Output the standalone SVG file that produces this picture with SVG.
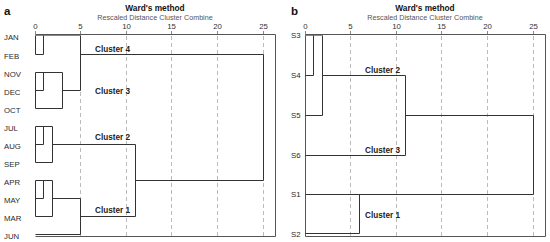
<svg xmlns="http://www.w3.org/2000/svg" width="550" height="242" viewBox="0 0 550 242">
<style>
text{font-family:"Liberation Sans",Arial,Helvetica,sans-serif}
.pl{font-size:11.5px;font-weight:bold;fill:#111}
.ti{font-size:8.3px;font-weight:bold;fill:#111;text-anchor:middle}
.st{font-size:7.2px;fill:#555;text-anchor:middle}
.tk{font-size:7.8px;fill:#333;text-anchor:middle}
.lf{font-size:7.8px;fill:#2a2a2a}
.cl{font-size:8.2px;font-weight:bold;fill:#222}
.grid{stroke:#bbb;stroke-width:1;stroke-dasharray:4 3;fill:none}
.tick{stroke:#888;stroke-width:1;fill:none}
.box{stroke:#555;stroke-width:1;fill:none}
.den{stroke:#333;stroke-width:1;fill:none}
.top{stroke:#888;stroke-width:1;fill:none}
</style>
<rect width="550" height="242" fill="#fff"/>

<g id="panel-a-frame">
<text class="pl" x="4" y="15">a</text>
<text class="ti" x="155" y="10.5">Ward's method</text>
<text class="st" x="155" y="19.5">Rescaled Distance Cluster Combine</text>
<g id="axis-a">
<text class="tk" x="35.5" y="28.5">0</text>
<text class="tk" x="80.5" y="28.5">5</text>
<text class="tk" x="126.5" y="28.5">10</text>
<text class="tk" x="171.5" y="28.5">15</text>
<text class="tk" x="217.5" y="28.5">20</text>
<text class="tk" x="263.5" y="28.5">25</text>
<path class="tick" d="M35.5 31V34.5M80.5 31V34.5M126.5 31V34.5M171.5 31V34.5M217.5 31V34.5M263.5 31V34.5"/>
</g>
<path class="grid" d="M80.5 36V236M126.5 36V236M171.5 36V236M217.5 36V236M263.5 36V236"/>
<path class="box" d="M35.5 34.5H275.5V236.5H35.5"/>
</g>

<g id="JAN"><text class="lf" x="4" y="40">JAN</text></g>
<g id="FEB"><text class="lf" x="4" y="58.5">FEB</text></g>
<g id="NOV"><text class="lf" x="4" y="76.5">NOV</text></g>
<g id="DEC"><text class="lf" x="4" y="94.5">DEC</text></g>
<g id="OCT"><text class="lf" x="4" y="112.5">OCT</text></g>
<g id="JUL"><text class="lf" x="4" y="130.5">JUL</text></g>
<g id="AUG"><text class="lf" x="4" y="148.5">AUG</text></g>
<g id="SEP"><text class="lf" x="4" y="166.5">SEP</text></g>
<g id="APR"><text class="lf" x="4" y="184.5">APR</text></g>
<g id="MAY"><text class="lf" x="4" y="202.5">MAY</text></g>
<g id="MAR"><text class="lf" x="4" y="220.5">MAR</text></g>
<g id="JUN"><text class="lf" x="4" y="238.5">JUN</text></g>

<g id="cluster-labels-a">
<text class="cl" x="95" y="51.5">Cluster 4</text>
<text class="cl" x="95" y="94">Cluster 3</text>
<text class="cl" x="95" y="140">Cluster 2</text>
<text class="cl" x="95" y="213">Cluster 1</text>
</g>

<g id="panel-b-frame">
<text class="pl" x="291" y="15">b</text>
<text class="ti" x="425" y="10.5">Ward's method</text>
<text class="st" x="425" y="19.5">Rescaled Distance Cluster Combine</text>
<g id="axis-b">
<text class="tk" x="305.5" y="28.5">0</text>
<text class="tk" x="350.5" y="28.5">5</text>
<text class="tk" x="396.5" y="28.5">10</text>
<text class="tk" x="441.5" y="28.5">15</text>
<text class="tk" x="487.5" y="28.5">20</text>
<text class="tk" x="533.5" y="28.5">25</text>
<path class="tick" d="M305.5 31V34.5M350.5 31V34.5M396.5 31V34.5M441.5 31V34.5M487.5 31V34.5M533.5 31V34.5"/>
</g>
<path class="grid" d="M350.5 36V236M396.5 36V236M441.5 36V236M487.5 36V236M533.5 36V236"/>
<path class="box" d="M305.5 34.5H545.5V236.5H305.5Z"/>
</g>

<g id="S3"><text class="lf" x="291" y="38.3">S3</text></g>
<g id="S4"><text class="lf" x="291" y="78.3">S4</text></g>
<g id="S5"><text class="lf" x="291" y="118.3">S5</text></g>
<g id="S6"><text class="lf" x="291" y="158.3">S6</text></g>
<g id="S1"><text class="lf" x="291" y="197.3">S1</text></g>
<g id="S2"><text class="lf" x="291" y="236.8">S2</text></g>

<g id="cluster-labels-b">
<text class="cl" x="365" y="72.5">Cluster 2</text>
<text class="cl" x="365" y="152.5">Cluster 3</text>
<text class="cl" x="365" y="217.5">Cluster 1</text>
</g>

<g id="connectors">
<path class="top" d="M35.5 35.5H80.5"/>
<path class="den" d="M35.5 35.5V54.5M43.5 35.5V54.5M35.5 54.5H43.5M80.5 35.5V90.5M80.5 54.5H263.5M263.5 54.5V180.5"/>
<path class="den" d="M35.5 72.5H62.5M43.5 72.5V90.5M35.5 90.5H43.5M62.5 90.5H80.5M62.5 72.5V108.5M35.5 108.5H62.5M35.5 72.5V108.5"/>
<path class="den" d="M35.5 126.5H52.5M35.5 126.5V162.5M43.5 126.5V144.5M35.5 144.5H43.5M52.5 126.5V162.5M35.5 162.5H52.5M52.5 144.5H135.5M135.5 144.5V216.5M135.5 180.5H263.5"/>
<path class="den" d="M35.5 180.5H52.5M35.5 180.5V216.5M43.5 180.5V198.5M35.5 198.5H43.5M52.5 180.5V216.5M35.5 216.5H52.5M52.5 198.5H80.5M80.5 198.5V234.5M35.5 234.5H80.5M80.5 216.5H135.5"/>
<path class="top" d="M305.5 35.5H322.5"/>
<path class="den" d="M313.5 35.5V75.5M305.5 75.5H313.5M322.5 35.5V115.5M305.5 115.5H322.5M322.5 75.5H405.5M405.5 75.5V155.5M305.5 155.5H405.5M405.5 115.5H533.5M533.5 115.5V194.5M305.5 194.5H533.5M359.5 194.5V233.5M305.5 233.5H359.5"/>
</g>
</svg>
